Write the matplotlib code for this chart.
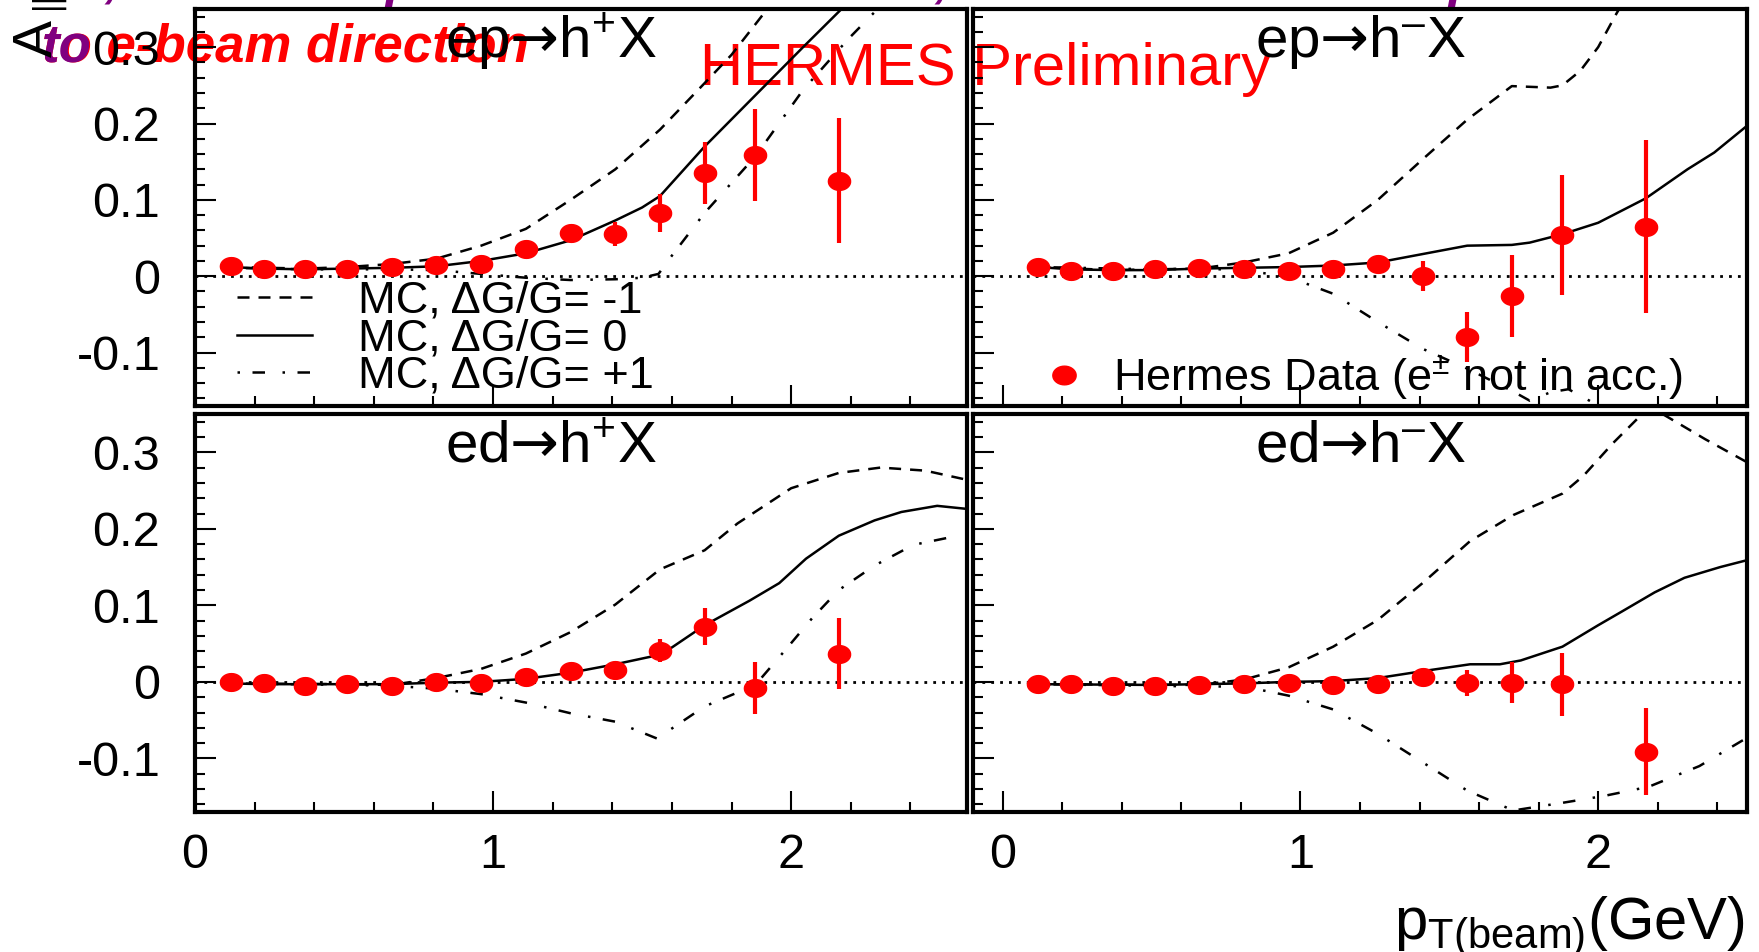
import matplotlib
matplotlib.use('Agg')
import matplotlib.pyplot as plt
import numpy as np
from matplotlib.path import Path
from matplotlib.ticker import MultipleLocator, FuncFormatter

plt.rcParams['font.family'] = ['Liberation Sans', 'DejaVu Sans']
plt.rcParams['mathtext.fontset'] = 'custom'
plt.rcParams['mathtext.rm'] = 'Liberation Sans'
plt.rcParams['mathtext.it'] = 'Liberation Sans:italic'
plt.rcParams['mathtext.bf'] = 'Liberation Sans:bold'
plt.rcParams['mathtext.sf'] = 'DejaVu Sans'

# ---- data points (bin centres in p_T, asymmetry, stat. error) ----
pt_x = [0.12, 0.23, 0.37, 0.51, 0.66, 0.81, 0.96, 1.11, 1.26, 1.41, 1.56, 1.71, 1.88, 2.16]

epp_val = [0.014, 0.010, 0.010, 0.010, 0.012, 0.015, 0.016, 0.035, 0.056, 0.055, 0.083, 0.135, 0.159, 0.125]
epp_err = [0.003, 0.003, 0.003, 0.003, 0.003, 0.004, 0.004, 0.006, 0.008, 0.016, 0.025, 0.041, 0.060, 0.082]
epm_val = [0.012, 0.007, 0.007, 0.009, 0.011, 0.010, 0.007, 0.010, 0.016, 0.000, -0.080, -0.026, 0.054, 0.065]
epm_err = [0.003, 0.003, 0.003, 0.003, 0.003, 0.004, 0.004, 0.005, 0.008, 0.020, 0.033, 0.054, 0.078, 0.113]
edp_val = [0.000, -0.002, -0.005, -0.003, -0.005, 0.000, -0.001, 0.006, 0.014, 0.016, 0.041, 0.072, -0.008, 0.037]
edp_err = [0.002, 0.002, 0.002, 0.002, 0.003, 0.003, 0.003, 0.004, 0.005, 0.006, 0.015, 0.024, 0.034, 0.046]
edm_val = [-0.003, -0.003, -0.005, -0.006, -0.004, -0.003, -0.001, -0.004, -0.003, 0.006, -0.002, -0.001, -0.003, -0.091]
edm_err = [0.002, 0.002, 0.002, 0.002, 0.003, 0.003, 0.003, 0.004, 0.005, 0.006, 0.017, 0.027, 0.041, 0.057]

# ---- MC curves, dG/G = -1 (m1), 0, +1 (p1) ----
# ep -> h+ X
epp_m1_x = [0.12, 0.37, 0.51, 0.66, 0.81, 0.96, 1.11, 1.26, 1.41, 1.56, 1.71, 1.80, 1.92, 2.00]
epp_m1_y = [0.012, 0.010, 0.012, 0.016, 0.023, 0.040, 0.062, 0.100, 0.140, 0.192, 0.253, 0.290, 0.350, 0.390]
epp_0_x = [0.12, 0.23, 0.37, 0.51, 0.66, 0.81, 0.96, 1.11, 1.26, 1.41, 1.50, 1.56, 1.71, 1.88, 2.04, 2.20]
epp_0_y = [0.012, 0.010, 0.009, 0.010, 0.011, 0.013, 0.020, 0.030, 0.047, 0.073, 0.090, 0.105, 0.170, 0.237, 0.300, 0.362]
epp_p1_x = [0.12, 0.37, 0.66, 0.81, 0.96, 1.11, 1.26, 1.41, 1.50, 1.555, 1.60, 1.71, 1.88, 2.04, 2.19, 2.29, 2.35]
epp_p1_y = [0.011, 0.009, 0.009, 0.008, 0.003, -0.002, -0.005, -0.004, -0.002, 0.003, 0.027, 0.083, 0.157, 0.244, 0.310, 0.350, 0.380]

# ep -> h- X
epm_m1_x = [0.12, 0.37, 0.51, 0.66, 0.81, 0.96, 1.11, 1.26, 1.41, 1.56, 1.71, 1.84, 1.88, 1.94, 2.00, 2.06, 2.10]
epm_m1_y = [0.012, 0.008, 0.009, 0.010, 0.018, 0.030, 0.057, 0.100, 0.153, 0.205, 0.249, 0.247, 0.250, 0.269, 0.300, 0.343, 0.370]
epm_0_x = [0.12, 0.23, 0.37, 0.51, 0.66, 0.81, 0.96, 1.11, 1.26, 1.41, 1.56, 1.71, 1.77, 1.88, 2.00, 2.16, 2.30, 2.39, 2.50]
epm_0_y = [0.012, 0.009, 0.008, 0.008, 0.010, 0.011, 0.012, 0.014, 0.018, 0.029, 0.040, 0.041, 0.044, 0.055, 0.070, 0.102, 0.140, 0.162, 0.197]
epm_p1_x = [0.12, 0.51, 0.66, 0.81, 0.96, 1.11, 1.26, 1.41, 1.56, 1.71, 1.77, 1.84, 1.90, 1.98, 2.05, 2.50]
epm_p1_y = [0.012, 0.009, 0.010, 0.008, -0.001, -0.023, -0.060, -0.095, -0.121, -0.150, -0.163, -0.152, -0.148, -0.165, -0.190, -0.250]

# ed -> h+ X
edp_m1_x = [0.12, 0.51, 0.66, 0.81, 0.96, 1.11, 1.26, 1.41, 1.56, 1.71, 1.82, 2.00, 2.16, 2.30, 2.45, 2.59]
edp_m1_y = [-0.002, -0.003, -0.004, 0.005, 0.017, 0.037, 0.065, 0.101, 0.147, 0.172, 0.207, 0.253, 0.273, 0.280, 0.276, 0.264]
edp_0_x = [0.12, 0.23, 0.37, 0.51, 0.66, 0.81, 0.96, 1.11, 1.26, 1.41, 1.53, 1.60, 1.71, 1.86, 1.96, 2.05, 2.16, 2.28, 2.37, 2.49, 2.59]
edp_0_y = [-0.002, -0.003, -0.003, -0.003, -0.003, -0.001, 0.000, 0.004, 0.012, 0.023, 0.033, 0.045, 0.074, 0.106, 0.129, 0.161, 0.191, 0.211, 0.222, 0.230, 0.226]
edp_p1_x = [0.12, 0.51, 0.66, 0.81, 0.96, 1.11, 1.26, 1.41, 1.55, 1.71, 1.88, 1.99, 2.07, 2.16, 2.28, 2.41, 2.56]
edp_p1_y = [-0.002, -0.004, -0.005, -0.009, -0.016, -0.027, -0.041, -0.052, -0.074, -0.032, -0.004, 0.046, 0.083, 0.120, 0.152, 0.179, 0.191]

# ed -> h- X
edm_m1_x = [0.12, 0.66, 0.81, 0.96, 1.11, 1.26, 1.41, 1.57, 1.715, 1.88, 1.95, 2.05, 2.14, 2.19, 2.26, 2.36, 2.50]
edm_m1_y = [-0.003, -0.004, 0.003, 0.019, 0.046, 0.081, 0.129, 0.184, 0.218, 0.246, 0.269, 0.312, 0.347, 0.356, 0.340, 0.317, 0.287]
edm_0_x = [0.12, 0.51, 0.66, 0.81, 0.96, 1.11, 1.26, 1.41, 1.57, 1.67, 1.74, 1.88, 2.00, 2.08, 2.19, 2.29, 2.41, 2.50]
edm_0_y = [-0.003, -0.004, -0.003, -0.002, 0.000, 0.001, 0.005, 0.014, 0.023, 0.023, 0.028, 0.046, 0.074, 0.092, 0.117, 0.136, 0.150, 0.159]
edm_p1_x = [0.12, 0.66, 0.81, 0.96, 1.11, 1.26, 1.41, 1.56, 1.715, 1.88, 2.02, 2.17, 2.34, 2.50]
edm_p1_y = [-0.003, -0.006, -0.006, -0.018, -0.036, -0.068, -0.105, -0.142, -0.168, -0.158, -0.149, -0.137, -0.110, -0.073]

mc_labels = ['MC, \u0394G/G= -1', 'MC, \u0394G/G= 0', 'MC, \u0394G/G= +1']
titles = ['ep$\\mathsf{\u2192}$h$^{+}$X', 'ep$\\mathsf{\u2192}$h$^{\u2013}$X',
          'ed$\\mathsf{\u2192}$h$^{+}$X', 'ed$\\mathsf{\u2192}$h$^{\u2013}$X']

# figure in pixels
W, H = 1759, 952
fig = plt.figure(figsize=(W / 100, H / 100), dpi=100)


def rect(x0, y0, x1, y1):
    # pixel box (top-left origin) -> figure fraction
    return [x0 / W, 1 - y1 / H, (x1 - x0) / W, (y1 - y0) / H]


ax_tl = fig.add_axes(rect(195, 9, 967, 406))
ax_tr = fig.add_axes(rect(973, 9, 1747, 406))
ax_bl = fig.add_axes(rect(195, 414, 967, 812))
ax_br = fig.add_axes(rect(973, 414, 1747, 812))

# ellipse marker (the original is slightly squeezed)
t = np.linspace(0, 2 * np.pi, 41)
ellipse = Path(np.column_stack([np.cos(t), 0.8 * np.sin(t)]))

dash_m1 = (4.8, 3.6)
dash_p1 = (1, 5, 5, 7)


def yfmt(v, pos):
    if abs(v) < 1e-9:
        return '0'
    return '%.1f' % v


def panel(ax, title, val, err, m1, zero, p1, left, bottom):
    ax.set_facecolor('none')
    if left:
        ax.set_xlim(0, 2.59)
    else:
        ax.set_xlim(-0.10, 2.50)
    ax.set_ylim(-0.17, 0.35)

    ax.axhline(0, color='k', lw=2, ls=(0, (1, 2.2)), zorder=1)

    l1, = ax.plot(m1[0], m1[1], color='k', lw=1.8, dashes=dash_m1, zorder=2)
    l2, = ax.plot(zero[0], zero[1], color='k', lw=1.8, zorder=2)
    l3, = ax.plot(p1[0], p1[1], color='k', lw=1.8, dashes=dash_p1, zorder=2)

    ax.errorbar(pt_x, val, yerr=err, fmt='none', ecolor='red', elinewidth=3,
                capsize=0, zorder=4)
    pts, = ax.plot(pt_x, val, ls='none', marker=ellipse, ms=16, color='red',
                   mec='red', zorder=5)

    ax.text(0.461 if left else 0.501, 0.88, title, transform=ax.transAxes,
            ha='center', va='baseline', fontsize=42)

    for s in ax.spines.values():
        s.set_linewidth(3)
    ax.xaxis.set_major_locator(MultipleLocator(1))
    ax.xaxis.set_minor_locator(MultipleLocator(0.2))
    ax.yaxis.set_major_locator(MultipleLocator(0.1))
    ax.yaxis.set_minor_locator(MultipleLocator(0.02))
    ax.yaxis.set_major_formatter(FuncFormatter(yfmt))
    ax.xaxis.set_major_formatter(FuncFormatter(lambda v, p: '%d' % round(v)))
    ax.tick_params(which='both', direction='in', top=False, right=False, width=1.5)
    ax.tick_params(which='major', length=15)
    ax.tick_params(which='minor', length=7)
    ax.tick_params(axis='y', labelsize=35, pad=25, labelleft=left)
    ax.tick_params(axis='x', labelsize=35, pad=15, labelbottom=bottom)
    return (l1, l2, l3), pts


mc_tl, pts_tl = panel(ax_tl, titles[0], epp_val, epp_err,
                      (epp_m1_x, epp_m1_y), (epp_0_x, epp_0_y), (epp_p1_x, epp_p1_y), True, False)
mc_tr, pts_tr = panel(ax_tr, titles[1], epm_val, epm_err,
                      (epm_m1_x, epm_m1_y), (epm_0_x, epm_0_y), (epm_p1_x, epm_p1_y), False, False)
panel(ax_bl, titles[2], edp_val, edp_err,
      (edp_m1_x, edp_m1_y), (edp_0_x, edp_0_y), (edp_p1_x, edp_p1_y), True, True)
panel(ax_br, titles[3], edm_val, edm_err,
      (edm_m1_x, edm_m1_y), (edm_0_x, edm_0_y), (edm_p1_x, edm_p1_y), False, True)

# legends
ax_tl.legend(mc_tl, mc_labels, loc='upper left', bbox_to_anchor=(237 / W, 1 - 281 / H),
             bbox_transform=fig.transFigure, frameon=False, fontsize=32.5,
             handlelength=1.67, handletextpad=1.0, labelspacing=-0.08,
             borderpad=0, borderaxespad=0)
ax_tr.legend([pts_tr], ['Hermes Data (e$^{\\pm}$ not in acc.)'], loc='center left',
             bbox_to_anchor=(1045 / W, 1 - 378 / H), bbox_transform=fig.transFigure,
             frameon=False, fontsize=32.5, handlelength=0.85, handletextpad=0.66,
             borderpad=0, borderaxespad=0, numpoints=1, markerscale=1.05)

# overlaid texts (drawn under the panels)
purple = '#800080'
fig.text(42 / W, 1 - 62 / H, 'to e-beam direction', color='red', fontsize=38,
         fontweight='bold', fontstyle='italic', va='baseline', zorder=-1)
fig.text(42 / W, 1 - 62 / H, 'to', color=purple, fontsize=38,
         fontweight='bold', fontstyle='italic', va='baseline', zorder=-1)
for xp, ch in [(105, ','), (385, 'p'), (935, ','), (1448, 'p')]:
    fig.text(xp / W, 1 + 4 / H, ch, color=purple, fontsize=38,
             fontweight='bold', fontstyle='italic', va='baseline', zorder=-1)
fig.text(700 / W, 1 - 85 / H, 'HERMES Preliminary', color='red', fontsize=43,
         va='baseline', zorder=-1)

fig.text(12 / W, 1 - 58 / H, 'A$_{\\parallel}$', rotation=90, fontsize=40,
         ha='left', va='bottom')
fig.text(1745 / W, 1 - 940 / H, 'p$_{\\mathregular{T(beam)}}$(GeV)', fontsize=43,
         ha='right', va='baseline')

fig.savefig('out.png', dpi=100)
